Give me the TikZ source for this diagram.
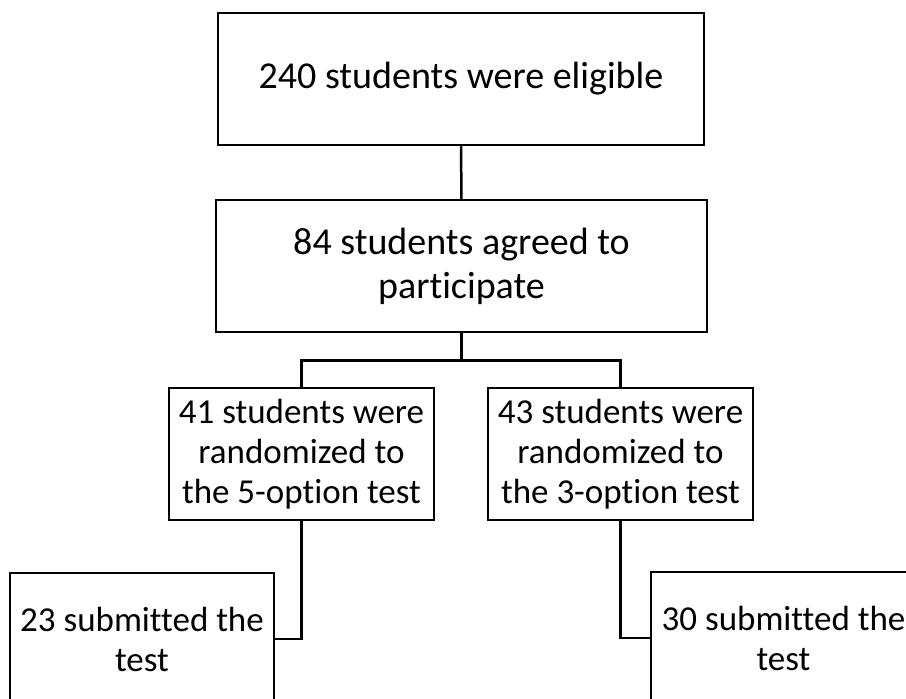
\documentclass[tikz,border=0pt]{standalone}
\usepackage{fontspec}
\setmainfont{Carlito}[Ligatures=NoCommon]
\begin{document}
\begin{tikzpicture}[x=1pt,y=-1pt]
		\tikzstyle{BOX} = [draw=black, line width=2.5pt, inner sep=0pt, align=center, minimum height=132pt]
		\tikzstyle{WIDE} = [BOX, font=\fontsize{38}{44}\selectfont]
		\tikzstyle{NARR} = [BOX, minimum width=265pt, font=\fontsize{35}{40}\selectfont]
		\tikzstyle{LINK} = [line width=2.5pt]
		\useasboundingbox (0,0) rectangle (906,699);
		\clip (0,0) rectangle (906,699);

		\node[WIDE, minimum width=486pt] (elig) at 	(461, 79) {240 students were eligible};
		\node[WIDE, minimum width=491pt] (agree) at 	(461.5, 266) {84 students agreed to\\participate};
		\draw[LINK] (elig.south) -- (agree.north);

		\node[NARR] (rFive) at 		(301.5, 454) {41 students were\\randomized to\\the 5-option test};
		\node[NARR] (rThree) at 	(620.5, 454) {43 students were\\randomized to\\the 3-option test};
		\draw[LINK] (agree.south) -- ++(0,27) -| (rFive.north);
		\draw[LINK] (agree.south) -- ++(0,27) -| (rThree.north);

		\node[NARR, minimum width=264pt] (sFive) at 	(142, 639) {23 submitted the\\test};
		\node[NARR] (sThree) at 	(783.5, 638) {30 submitted the\\test};
		\draw[LINK] (rFive.south) |- (sFive.east);
		\draw[LINK] (rThree.south) |- (sThree.west);
\end{tikzpicture}
\end{document}
